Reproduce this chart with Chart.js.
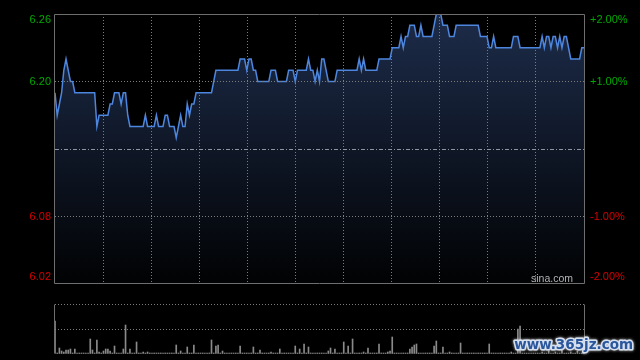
<!DOCTYPE html>
<html>
<head>
<meta charset="utf-8">
<script src="https://cdn.jsdelivr.net/npm/chart.js@4/dist/chart.umd.min.js"></script>
<style>
  html, body { margin: 0; padding: 0; background: #000; }
  body { width: 640px; height: 360px; position: relative; overflow: hidden; }
  canvas { position: absolute; left: 0; }
  #priceChart { top: 0; }
  #volChart { top: 292px; }
</style>
</head>
<body>
<canvas id="priceChart" width="640" height="292"></canvas>
<canvas id="volChart" width="640" height="68"></canvas>
<script>
// previous close and axis ticks
const prevClose = 6.14
const priceTicks = [6.02, 6.08, 6.14, 6.20, 6.26]
const priceLabels = ["6.02", "6.08", "", "6.20", "6.26"]
const pctTicks = [-2, -1, 0, 1, 2]
const pctLabels = ["-2.00%", "-1.00%", "", "+1.00%", "+2.00%"]

// one price per minute, 09:30 -> 15:00 (241 points)
const prices = [
  6.19,6.17,6.18,6.19,6.21,6.22,6.21,6.20,6.20,6.19, 6.19,6.19,6.19,6.19,6.19,6.19,6.19,6.19,6.19,6.16,
  6.17,6.17,6.17,6.17,6.17,6.18,6.18,6.19,6.19,6.19, 6.18,6.19,6.19,6.17,6.16,6.16,6.16,6.16,6.16,6.16,
  6.16,6.17,6.16,6.16,6.16,6.16,6.17,6.16,6.16,6.16, 6.17,6.17,6.16,6.16,6.16,6.15,6.16,6.17,6.16,6.16,
  6.18,6.17,6.18,6.18,6.19,6.19,6.19,6.19,6.19,6.19, 6.19,6.19,6.20,6.21,6.21,6.21,6.21,6.21,6.21,6.21,
  6.21,6.21,6.21,6.21,6.22,6.22,6.22,6.21,6.22,6.22, 6.21,6.21,6.20,6.20,6.20,6.20,6.20,6.20,6.21,6.21,
  6.21,6.20,6.20,6.20,6.20,6.20,6.21,6.21,6.21,6.20, 6.21,6.21,6.21,6.21,6.21,6.22,6.21,6.21,6.20,6.21,
  6.20,6.22,6.22,6.21,6.20,6.20,6.20,6.20,6.21,6.21, 6.21,6.21,6.21,6.21,6.21,6.21,6.21,6.21,6.22,6.21,
  6.22,6.21,6.21,6.21,6.21,6.21,6.21,6.22,6.22,6.22, 6.22,6.22,6.22,6.23,6.23,6.23,6.23,6.24,6.23,6.24,
  6.24,6.25,6.25,6.25,6.24,6.24,6.25,6.24,6.24,6.24, 6.24,6.24,6.25,6.26,6.26,6.26,6.25,6.25,6.25,6.24,
  6.24,6.24,6.25,6.25,6.25,6.25,6.25,6.25,6.25,6.25, 6.25,6.25,6.25,6.24,6.24,6.24,6.24,6.23,6.23,6.24,
  6.23,6.23,6.23,6.23,6.23,6.23,6.23,6.23,6.24,6.24, 6.24,6.23,6.23,6.23,6.23,6.23,6.23,6.23,6.23,6.23,
  6.23,6.24,6.23,6.24,6.24,6.23,6.24,6.24,6.23,6.24, 6.23,6.24,6.24,6.23,6.22,6.22,6.22,6.22,6.22,6.23,
  6.23
]

// volume per minute (hundreds of lots)
const volumes = [
  33,1,6,3,2,4,4,5,1,5, 1,1,1,1,1,1,15,4,1,14,
  2,1,3,5,5,3,1,8,1,1, 1,5,29,1,5,1,1,12,1,1,
  2,1,2,1,1,1,1,1,1,1, 1,1,1,1,1,9,1,3,1,1,
  7,1,1,9,1,1,1,1,1,1, 1,14,1,8,9,1,3,1,1,1,
  1,1,1,1,8,1,1,1,1,1, 7,1,1,4,1,1,1,1,2,1,
  1,1,5,1,1,1,1,1,1,8, 1,5,1,10,1,7,1,1,1,1,
  1,1,1,1,3,6,1,5,1,1, 1,12,1,8,1,15,1,1,1,1,
  2,1,6,1,1,1,1,10,1,1, 1,2,3,17,1,1,1,1,1,1,
  1,5,7,9,10,1,1,1,1,1, 1,1,8,13,1,1,7,1,1,2,
  1,1,1,1,11,1,1,1,1,1, 1,1,1,1,1,1,1,10,1,1,
  1,1,1,1,1,1,1,2,1,1, 25,28,1,1,1,1,1,1,1,1,
  1,2,1,1,3,1,1,2,1,1, 4,1,1,1,2,1,1,3,1,1,
  6
]
const volMax = 50

const lastIndex = prices.length - 1
const xDivisions = 11
const frameColor = "#6e6e6e"
const gridColor = "#7c7c7c"
const upColor = "#00a800"
const downColor = "#d40000"

function xGridTicks(axis) {
    const ticks = []
    for (let k = 0; k <= xDivisions; k++) ticks.push({ value: k * lastIndex / xDivisions })
    axis.ticks = ticks
}

function drawFrame(ctx, a, sides) {
    ctx.save()
    ctx.strokeStyle = frameColor
    ctx.lineWidth = 1
    ctx.beginPath()
    const l = Math.round(a.left) - 0.5, r = Math.round(a.right) + 0.5
    const t = Math.round(a.top) + 0.5, b = Math.round(a.bottom) - 0.5
    if (sides.includes("t")) { ctx.moveTo(l, t); ctx.lineTo(r, t) }
    if (sides.includes("b")) { ctx.moveTo(l, b); ctx.lineTo(r, b) }
    if (sides.includes("l")) { ctx.moveTo(l, t); ctx.lineTo(l, b) }
    if (sides.includes("r")) { ctx.moveTo(r, t); ctx.lineTo(r, b) }
    ctx.stroke()
    ctx.restore()
}

const priceDecor = {
    id: "priceDecor",
    afterDraw(chart) {
        const { ctx, chartArea: a, scales } = chart
        // previous close line
        const yMid = Math.round(scales.y.getPixelForValue(prevClose)) + 0.5
        ctx.save()
        ctx.strokeStyle = "#8e959e"
        ctx.setLineDash([4, 2, 1, 2])
        ctx.beginPath()
        ctx.moveTo(a.left, yMid)
        ctx.lineTo(a.right, yMid)
        ctx.stroke()
        ctx.restore()

        drawFrame(ctx, a, "tblr")

        // axis labels, edge labels kept inside the plot height
        ctx.save()
        ctx.font = "11px 'Liberation Sans', Arial, sans-serif"
        ctx.textBaseline = "middle"
        const place = (v) => Math.min(Math.max(v, a.top + 6), a.bottom - 7)
        priceTicks.forEach((v, i) => {
            if (!priceLabels[i]) return
            ctx.fillStyle = v > prevClose ? upColor : downColor
            ctx.textAlign = "right"
            ctx.fillText(priceLabels[i], a.left - 4, place(scales.y.getPixelForValue(v)))
        })
        pctTicks.forEach((v, i) => {
            if (!pctLabels[i]) return
            ctx.fillStyle = v > 0 ? upColor : downColor
            ctx.textAlign = "left"
            ctx.fillText(pctLabels[i], a.right + 6, place(scales.pct.getPixelForValue(v)))
        })
        ctx.fillStyle = "#b4b4b4"
        ctx.font = "10.5px 'Liberation Sans', Arial, sans-serif"
        ctx.textAlign = "right"
        ctx.fillText("sina.com", a.right - 11, a.bottom - 5)
        ctx.restore()
    }
}

const volDecor = {
    id: "volDecor",
    afterDraw(chart) {
        const { ctx, chartArea: a } = chart
        drawFrame(ctx, a, "lr")
        ctx.save()
        ctx.font = "bold 13.5px 'DejaVu Sans', sans-serif"
        ctx.textAlign = "right"
        ctx.textBaseline = "middle"
        ctx.lineJoin = "round"
        ctx.shadowColor = "rgba(255,255,255,0.8)"
        ctx.shadowBlur = 3
        ctx.strokeStyle = "#d6e0ef"
        ctx.lineWidth = 3
        ctx.strokeText("www.365jz.com", 633, 53)
        ctx.shadowBlur = 0
        ctx.fillStyle = "#2a569c"
        ctx.fillText("www.365jz.com", 633, 53)
        ctx.restore()
    }
}

const hiddenEdge = (last) => (c) => (c.index === 0 || c.index === last) ? "rgba(0,0,0,0)" : gridColor

new Chart(document.getElementById("priceChart"), {
    type: "line",
    data: {
        datasets: [{
            data: prices.map((p, i) => ({ x: i, y: p })),
            borderColor: "#4d86de",
            borderWidth: 1.5,
            pointRadius: 0,
            tension: 0,
            fill: "start",
            backgroundColor: (c) => {
                const area = c.chart.chartArea
                if (!area) return "rgba(0,0,0,0)"
                const g = c.chart.ctx.createLinearGradient(0, area.top, 0, area.bottom)
                g.addColorStop(0, "#1d2c4a")
                g.addColorStop(1, "#010203")
                return g
            }
        }]
    },
    options: {
        responsive: false,
        animation: false,
        events: [],
        layout: { padding: { top: 14, left: 0, right: 0, bottom: 0 } },
        plugins: { legend: { display: false }, tooltip: { enabled: false } },
        scales: {
            x: {
                type: "linear", min: 0, max: lastIndex,
                afterBuildTicks: xGridTicks,
                afterFit: (s) => { s.height = 8 },
                ticks: { display: false },
                grid: { color: hiddenEdge(xDivisions), drawTicks: false, z: 1 },
                border: { display: false, dash: [1, 2] }
            },
            y: {
                position: "left", min: 6.02, max: 6.26,
                afterBuildTicks: (axis) => { axis.ticks = priceTicks.map(v => ({ value: v })) },
                afterFit: (s) => { s.width = 55 },
                ticks: { display: false },
                grid: { color: (c) => (c.index === 2 ? "rgba(0,0,0,0)" : hiddenEdge(4)(c)), drawTicks: false, z: 1 },
                border: { display: false, dash: [1, 2] }
            },
            pct: {
                position: "right", min: -2, max: 2,
                afterBuildTicks: (axis) => { axis.ticks = pctTicks.map(v => ({ value: v })) },
                afterFit: (s) => { s.width = 56 },
                ticks: { display: false },
                grid: { display: false },
                border: { display: false }
            }
        }
    },
    plugins: [priceDecor]
})

new Chart(document.getElementById("volChart"), {
    type: "bar",
    data: {
        datasets: [{
            data: volumes.map((v, i) => ({ x: i, y: v })),
            backgroundColor: "#8a8a8a",
            barThickness: 1,
            borderWidth: 0
        }]
    },
    options: {
        responsive: false,
        animation: false,
        events: [],
        layout: { padding: { top: 12, left: 0, right: 56, bottom: 0 } },
        plugins: { legend: { display: false }, tooltip: { enabled: false } },
        scales: {
            x: {
                type: "linear", min: 0, max: lastIndex, offset: false,
                afterFit: (s) => { s.height = 6 },
                ticks: { display: false },
                grid: { display: false },
                border: { display: false }
            },
            y: {
                min: 0, max: volMax,
                afterBuildTicks: (axis) => { axis.ticks = [0, volMax / 2, volMax].map(v => ({ value: v })) },
                afterFit: (s) => { s.width = 55 },
                ticks: { display: false },
                grid: { color: (c) => (c.index === 0 ? "rgba(0,0,0,0)" : gridColor), drawTicks: false },
                border: { display: false, dash: [1, 2] }
            }
        }
    },
    plugins: [volDecor]
})
</script>
</body>
</html>
